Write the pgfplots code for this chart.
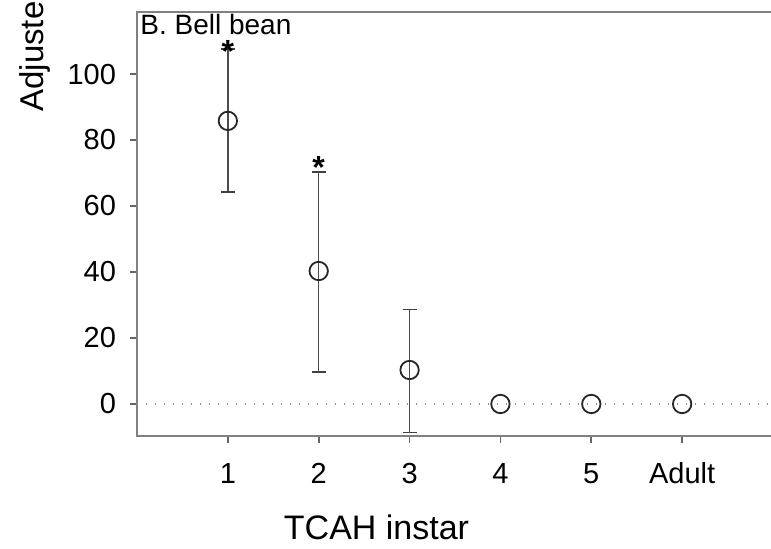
\documentclass[border=0pt]{standalone}
\usepackage{fontspec}
\setmainfont{Liberation Sans}
\usepackage{pgfplots}
\pgfplotsset{compat=1.18}

% instar, mean, upper and lower error
\pgfplotstableread{
x  y     ep    em
1  85.8  21.8  21.6
2  40.3  30.0  30.6
3  10.3  18.3  18.9
}\witherr
\pgfplotstableread{
x  y
4  0
5  0
6  0
}\noerr

\begin{document}
\begin{tikzpicture}
\begin{axis}[
  at={(0,0)}, anchor=south west,
  scale only axis, width=318pt, height=212pt,
  xmin=0, xmax=7, ymin=-9.7, ymax=118.8,
  axis line style={draw=black!50, line width=1pt},
  xtick={1,2,3,4,5,6}, xticklabels={1,2,3,4,5,Adult},
  ytick={0,20,40,60,80,100},
  xtick pos=bottom, ytick pos=left,
  tick align=outside, major tick length=3.5pt,
  tick style={draw=black!60, line width=0.8pt},
  tick label style={font=\fontsize{14.5}{16}\selectfont},
  xticklabel style={text height=10.5pt, text depth=0pt, yshift=-6pt},
  yticklabel style={xshift=-3.5pt},
  /pgf/number format/assume math mode=true,
  clip=false,
]
% zero reference line
\addplot[draw=black!45, line width=0.6pt, dash pattern=on 0.6pt off 3.9pt] coordinates {(0,0) (7,0)};
% means with error bars
\addplot[only marks, mark=o, mark size=4.6pt,
  mark options={line width=0.9pt, draw=black!85, fill=white},
  error bars/.cd, y dir=both, y explicit,
  error bar style={draw=black!70, line width=0.7pt},
  error mark options={rotate=90, mark size=3.5pt, line width=0.8pt, draw=black!75}]
  table[x=x, y=y, y error plus=ep, y error minus=em] {\witherr};
\addplot[only marks, mark=o, mark size=4.6pt,
  mark options={line width=0.9pt, draw=black!85, fill=white}]
  table[x=x, y=y] {\noerr};
% significance asterisks
\addplot[draw=none, mark=none, nodes near coords={*},
  every node near coord/.style={anchor=center, inner sep=0, yshift=-2.5pt,
    font=\fontsize{16}{16}\bfseries}]
  coordinates {(1,108.2) (2,73.3)};
\end{axis}
\node[anchor=base west, inner sep=0, font=\fontsize{14}{16}\selectfont] at (1.5pt,200.5pt) {B. Bell bean};
\node[anchor=base, inner sep=0, font=\fontsize{17}{20}\selectfont] at (119.75pt,-52pt) {TCAH instar};
\node[rotate=90, anchor=base west, inner sep=0, font=\fontsize{16.5}{20}\selectfont] at (-47pt,162pt) {Adjusted mortality (\%)};
\pgfresetboundingbox
\path[use as bounding box] (-68.5pt,-56.5pt) rectangle (317pt,218pt);
\end{tikzpicture}
\end{document}
